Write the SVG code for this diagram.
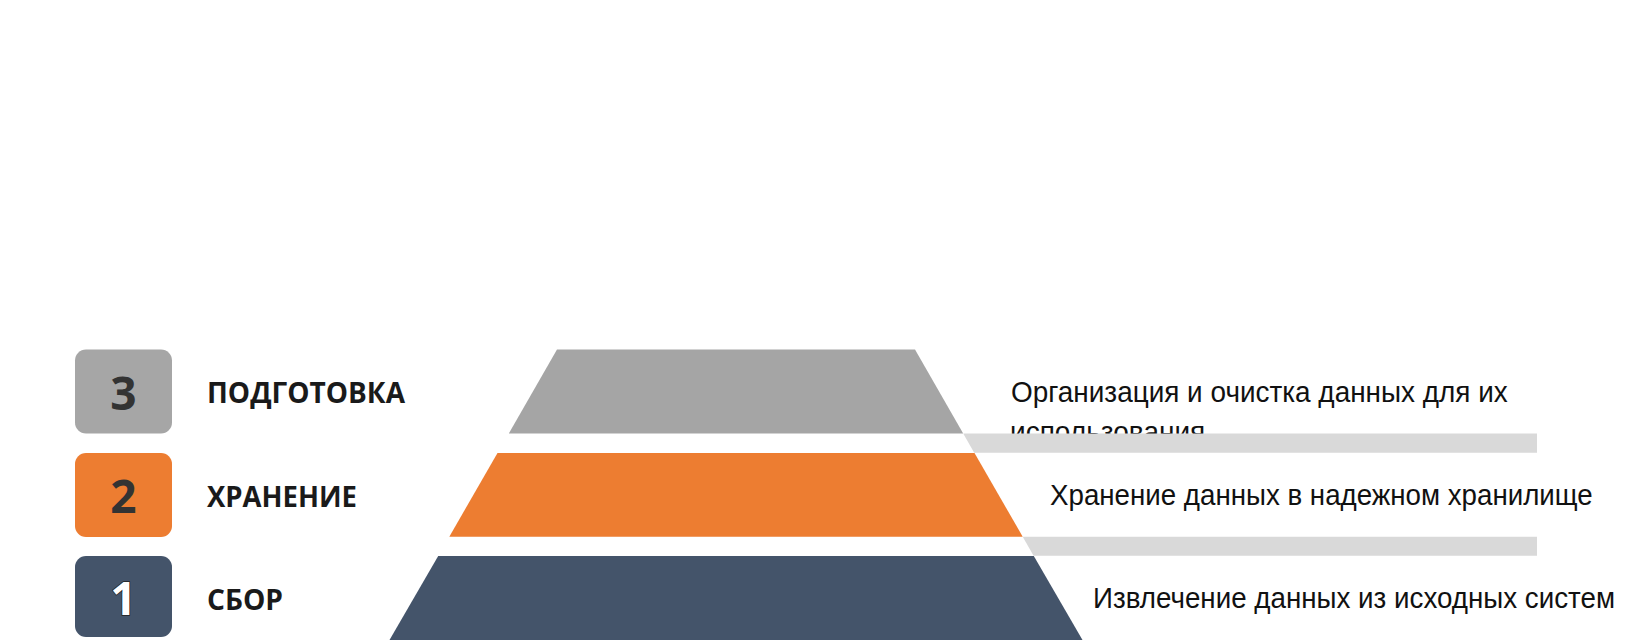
<svg xmlns="http://www.w3.org/2000/svg" width="1627" height="640" viewBox="0 0 1627 640">
  <style>
    .num { font-family: "Open Sans", "Noto Sans", "DejaVu Sans", sans-serif; font-weight: 700; font-size: 46px; text-anchor: middle; }
    .lbl { font-family: "Open Sans", "Noto Sans", "DejaVu Sans", sans-serif; font-weight: 700; font-size: 28px; fill: #1a1a1a; }
    .desc { font-family: "Liberation Sans", Arial, sans-serif; font-size: 30px; fill: #111111; }
    .bar { fill: #d9d9d9; }
  </style>
  <rect x="0" y="0" width="1627" height="640" fill="#ffffff"/>

  <g id="level3">
    <rect x="75" y="349.5" width="97" height="84" rx="11" fill="#a6a6a6"/>
    <text class="num" x="123.5" y="410" fill="#333333">3</text>
    <text class="lbl" x="207" y="403" textLength="198" lengthAdjust="spacingAndGlyphs">ПОДГОТОВКА</text>
    <polygon points="557,349.5 915,349.5 963.2,433.5 508.8,433.5" fill="#a5a5a5"/>
    <text class="desc" transform="translate(1011,401.5) scale(0.9,1)" x="0" y="0" textLength="552" lengthAdjust="spacingAndGlyphs">Организация и очистка данных для их</text>
    <text class="desc" transform="translate(1010,442) scale(0.9,1)" x="0" y="0" textLength="217" lengthAdjust="spacingAndGlyphs">использования</text>
  </g>

  <g id="level2">
    <rect x="75" y="453" width="97" height="84" rx="11" fill="#ed7d31"/>
    <text class="num" x="123.5" y="513" fill="#333333">2</text>
    <text class="lbl" x="207" y="506.5" textLength="150" lengthAdjust="spacingAndGlyphs">ХРАНЕНИЕ</text>
    <polygon points="497.5,453 974.5,453 1022.7,536.7 449.3,536.7" fill="#ed7d31"/>
    <text class="desc" transform="translate(1050,505) scale(0.9,1)" x="0" y="0" textLength="603" lengthAdjust="spacingAndGlyphs">Хранение данных в надежном хранилище</text>
  </g>

  <g id="level1">
    <rect x="75" y="556" width="97" height="81" rx="11" fill="#44546a"/>
    <text class="num" x="123.5" y="615" fill="#ffffff" stroke="#222222" stroke-width="1.5" paint-order="stroke">1</text>
    <text class="lbl" x="207" y="609.5" textLength="76" lengthAdjust="spacingAndGlyphs">СБОР</text>
    <polygon points="438.2,556 1033.8,556 1082.5,640 389.5,640" fill="#44546a"/>
    <text class="desc" transform="translate(1093,608) scale(0.9,1)" x="0" y="0" textLength="580" lengthAdjust="spacingAndGlyphs">Извлечение данных из исходных систем</text>
  </g>

  <g id="connectors">
    <polygon class="bar" points="963.2,433.5 1537,433.5 1537,452.7 974.2,452.7"/>
    <polygon class="bar" points="1022.7,536.7 1537,536.7 1537,555.7 1033.6,555.7"/>
  </g>
</svg>
